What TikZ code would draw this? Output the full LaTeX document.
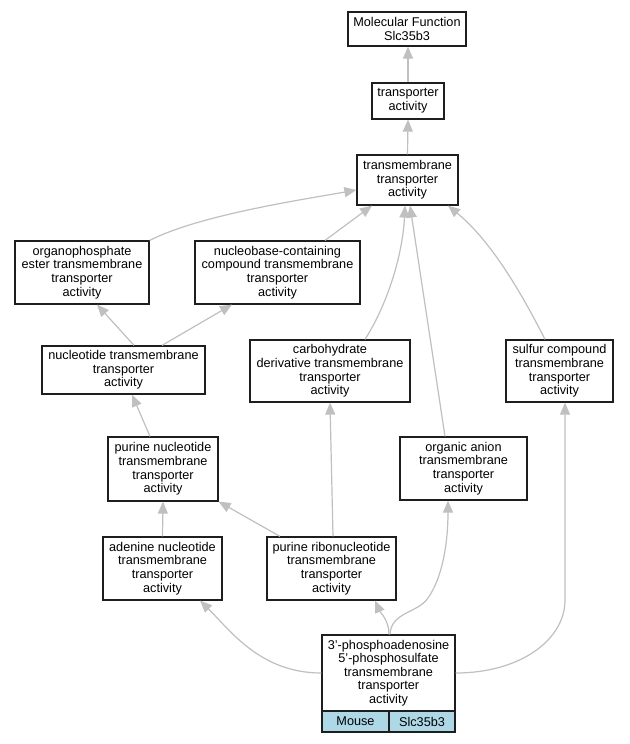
\documentclass[tikz,border=0pt]{standalone}
\usepackage{fontspec}
\setmainfont{Liberation Sans}
\usetikzlibrary{arrows.meta,calc}
\begin{document}
\begin{tikzpicture}[x=1pt,y=-1pt,
  box/.style={draw={rgb,255:red,30;green,30;blue,30},line width=1.2pt,fill=white,align=center,inner sep=0pt,font=\fontsize{12.7}{13.6}\selectfont},
  cell/.style={draw={rgb,255:red,30;green,30;blue,30},line width=1.2pt,fill={rgb,255:red,173;green,216;blue,230},align=center,inner sep=0pt,font=\fontsize{12.7}{13.6}\selectfont},
  edge/.style={draw={rgb,255:red,192;green,192;blue,192},line width=1.2pt,-{Triangle[length=12pt,width=10pt]}}]
\useasboundingbox (0,0) rectangle (629,744);
\fill[white] (0,0) rectangle (629,744);
\node[box,minimum width=118,minimum height=34] (mf) at (407,29) {Molecular Function\\Slc35b3};
\node[box,minimum width=72,minimum height=36] (ta) at (408,101) {transporter\\activity};
\node[box,minimum width=101,minimum height=50] (tm) at (407.5,180) {transmembrane\\transporter\\activity};
\node[box,minimum width=134,minimum height=63] (op) at (82,272.5) {organophosphate\\ester transmembrane\\transporter\\activity};
\node[box,minimum width=165,minimum height=63] (nb) at (277.5,272.5) {nucleobase-containing\\compound transmembrane\\transporter\\activity};
\node[box,minimum width=163,minimum height=48] (nt) at (123.5,370) {nucleotide transmembrane\\transporter\\activity};
\node[box,minimum width=160,minimum height=62] (cd) at (330,371) {carbohydrate\\derivative transmembrane\\transporter\\activity};
\node[box,minimum width=107,minimum height=62] (sc) at (559.5,371) {sulfur compound\\transmembrane\\transporter\\activity};
\node[box,minimum width=127,minimum height=63] (oa) at (463.5,468.5) {organic anion\\transmembrane\\transporter\\activity};
\node[box,minimum width=110,minimum height=64] (pn) at (163,469) {purine nucleotide\\transmembrane\\transporter\\activity};
\node[box,minimum width=119,minimum height=63] (an) at (162.5,568.5) {adenine nucleotide\\transmembrane\\transporter\\activity};
\node[box,minimum width=129,minimum height=63] (pr) at (331.5,568.5) {purine ribonucleotide\\transmembrane\\transporter\\activity};
\node[box,minimum width=133,minimum height=76] (ps) at (388.5,673) {3'-phosphoadenosine\\5'-phosphosulfate\\transmembrane\\transporter\\activity};
\node[cell,minimum width=67,minimum height=21] (ms) at (355.5,721.5) {Mouse};
\node[cell,minimum width=66,minimum height=21] (sl) at (422,721.5) {Slc35b3};
% edges
\draw[edge] (ta.north) -- ([xshift=1]mf.south) ;
\draw[edge] (tm.north) -- (ta.south);
\draw[edge] (op.north east) .. controls (200,215) and (300,200) .. ([yshift=-10]tm.west);
\draw[edge] ([xshift=47.5]nb.north) -- ([xshift=-35.5]tm.south);
\draw[edge] ([xshift=35]cd.north) .. controls (390,300) and (403,250) .. ([xshift=-2.5]tm.south);
\draw[edge] ([xshift=-18.5]oa.north) -- ([xshift=2.5]tm.south);
\draw[edge] ([xshift=-14.5]sc.north) .. controls (520,290) and (490,240) .. ([xshift=40.5]tm.south);
\draw[edge] ([xshift=10.5]nt.north) -- ([xshift=15]op.south);
\draw[edge] ([xshift=38.5]nt.north) -- ([xshift=-45.5]nb.south);
\draw[edge] ([xshift=-13]pn.north) -- ([xshift=8.5]nt.south);
\draw[edge] (an.north) -- (pn.south);
\draw[edge] ([xshift=-51.5]pr.north) -- (pn.south east);
\draw[edge] ([xshift=1.5]pr.north) -- (cd.south);
\draw[edge] (ps.west) .. controls (260,673) and (230,630) .. ([xshift=37.5]an.south);
\draw[edge] ([xshift=0.5]ps.north) .. controls (389,620) and (380,612) .. ([xshift=43.5]pr.south);
\draw[edge] ([xshift=1.5]ps.north) .. controls (391,612) and (418,613) .. (428,598) .. controls (446,572) and (448,530) .. ([xshift=-15.5]oa.south);
\draw[edge] (ps.east) .. controls (520,673) and (565,640) .. (565,600) -- ([xshift=5.5]sc.south);
\end{tikzpicture}
\end{document}
